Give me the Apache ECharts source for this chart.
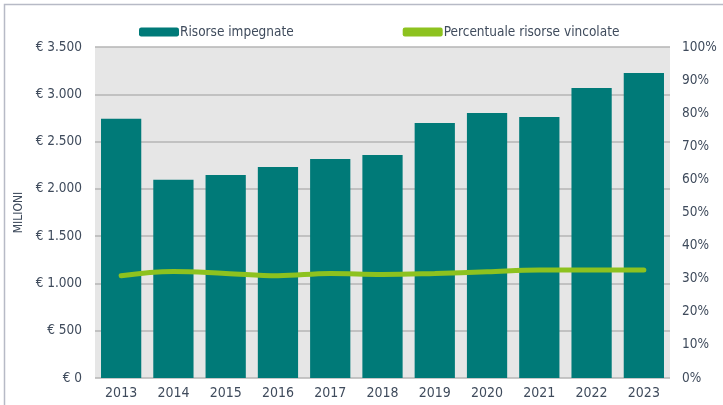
<!DOCTYPE html>
<html>
<head>
<meta charset="utf-8">
<script src="https://cdn.jsdelivr.net/npm/echarts@6/dist/echarts.min.js"></script>
<style>
html, body { margin: 0; padding: 0; background: #fff; }
#chart { width: 723px; height: 405px; }
</style>
</head>
<body>
<div id="chart"></div>
<script>
var anni = ['2013', '2014', '2015', '2016', '2017', '2018', '2019', '2020', '2021', '2022', '2023'];
var risorseImpegnate = [2740, 2095, 2147, 2231, 2316, 2358, 2696, 2802, 2760, 3066, 3225];
var percVincolate = [30.9, 32.2, 31.6, 30.9, 31.6, 31.3, 31.6, 32.1, 32.6, 32.6, 32.6];

var FONT = "'DejaVu Sans Condensed', 'Liberation Sans Narrow', sans-serif";
var TESTO = '#3f4b5c';

var myChart = echarts.init(document.getElementById('chart'));
var option = {
    animation: false,
    graphic: [{
        type: 'rect',
        shape: { x: 4.5, y: 4.5, width: 800, height: 500 },
        style: { fill: 'none', stroke: '#b7bac6', lineWidth: 1.5 },
        silent: true
    }],
    legend: {
        top: 20,
        left: 134,
        itemWidth: 40,
        itemHeight: 9,
        itemGap: 109,
        icon: 'roundRect',
        textStyle: { fontFamily: FONT, fontSize: 13.5, color: TESTO, padding: [0, 0, 0, -4] },
        data: ['Risorse impegnate', 'Percentuale risorse vincolate']
    },
    grid: {
        left: 95,
        right: 53,
        top: 47,
        bottom: 27,
        show: true,
        backgroundColor: '#e6e6e6',
        borderWidth: 0
    },
    xAxis: {
        type: 'category',
        data: anni,
        axisLine: { show: false },
        axisTick: { show: false },
        axisLabel: { fontFamily: FONT, fontSize: 14, color: TESTO, margin: 8 }
    },
    yAxis: [{
        type: 'value',
        min: 0,
        max: 3500,
        interval: 500,
        name: 'MILIONI',
        nameLocation: 'middle',
        nameGap: 64,
        nameRotate: 90,
        nameTextStyle: { fontFamily: FONT, fontSize: 12, color: TESTO },
        axisLine: { show: false },
        axisTick: { show: false },
        splitLine: { lineStyle: { color: '#b5b5b5', width: 1.5 } },
        axisLabel: {
            fontFamily: FONT, fontSize: 13.5, color: TESTO, margin: 13,
            formatter: function (v) {
                return '€ ' + String(v).replace(/\B(?=(\d{3})+(?!\d))/g, '.');
            }
        }
    }, {
        type: 'value',
        min: 0,
        max: 100,
        interval: 10,
        position: 'right',
        axisLine: { show: false },
        axisTick: { show: false },
        splitLine: { show: false },
        axisLabel: { fontFamily: FONT, fontSize: 13.5, color: TESTO, margin: 12, formatter: '{value}%' }
    }],
    series: [{
        name: 'Risorse impegnate',
        type: 'bar',
        data: risorseImpegnate,
        barCategoryGap: '23%',
        itemStyle: { color: '#007a78' }
    }, {
        name: 'Percentuale risorse vincolate',
        type: 'line',
        yAxisIndex: 1,
        data: percVincolate,
        smooth: 0.4,
        symbol: 'none',
        lineStyle: { color: '#8dc21f', width: 5, cap: 'round' },
        itemStyle: { color: '#8dc21f' }
    }]
};
myChart.setOption(option);
</script>
</body>
</html>
